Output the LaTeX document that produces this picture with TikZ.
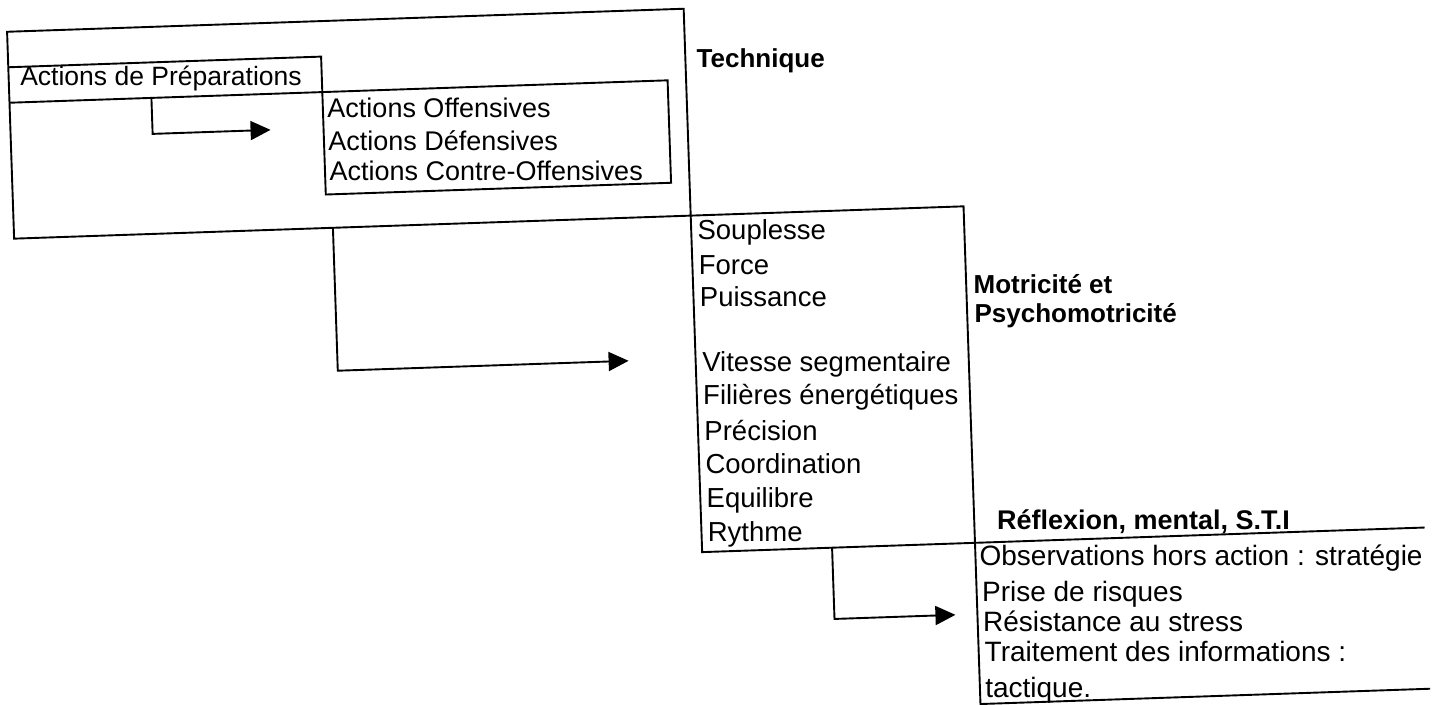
\documentclass[tikz,border=0pt]{standalone}
\usepackage{fontspec}
\setmainfont{Liberation Sans}
\usetikzlibrary{arrows.meta}
\begin{document}
\begin{tikzpicture}[x=1pt,y=-1pt,
  boxline/.style={line width=1.9pt, line join=miter},
  conn/.style={line width=1.9pt, -{Triangle[length=20pt,width=19pt]}},
  txt/.style={anchor=base, inner sep=0pt, outer sep=0pt},
  fprep/.style={txt, font=\fontsize{26.5}{31}\selectfont},
  foff/.style={txt, font=\fontsize{27}{32}\selectfont},
  fmot/.style={txt, font=\fontsize{27.5}{33}\selectfont},
  fref/.style={txt, font=\fontsize{28}{33}\selectfont},
  ftitle/.style={txt, font=\bfseries\fontsize{26}{30}\selectfont}]
\fill[white] (0,0) rectangle (1437,704);
\useasboundingbox (0,0) rectangle (1437,704);
\begin{scope}[rotate=1.95]
  % corners
  \coordinate (T1) at (6,32);     \coordinate (T2) at (683,32);
  \coordinate (T3) at (683,239);  \coordinate (T4) at (6,239);
  \coordinate (P1) at (6,67.5);   \coordinate (P2) at (319,67.5);
  \coordinate (P3) at (319,103);  \coordinate (P4) at (6,103);
  \coordinate (O2) at (664.5,103); \coordinate (O3) at (664.5,205.5);
  \coordinate (O4) at (319,205.5);
  \coordinate (M2) at (956,239);  \coordinate (M3) at (956,575.7);
  \coordinate (M4) at (683,575.7);
  \coordinate (R2) at (1406,575.7); \coordinate (R3) at (1406,737);
  \coordinate (R4) at (956,737);
  % boxes
  \draw[boxline] (T1) -- (T2) -- (T3) -- (T4) -- cycle;
  \draw[boxline] (P1) -- (P2) -- (P3);
  \draw[boxline] (P4) -- (O2) -- (O3) -- (O4) -- (P3);
  \draw[boxline] (T3) -- (M2) -- (M3);
  \draw[boxline] (T3) -- (M4) -- (R2);
  \draw[boxline] (M3) -- (R4) -- (R3);
  % connectors
  \coordinate (a1s) at (148,103); \coordinate (a1c) at (148,139); \coordinate (a1e) at (266,139);
  \coordinate (a2s) at (325,239); \coordinate (a2c) at (325,382); \coordinate (a2e) at (616,382);
  \coordinate (a3s) at (813,575.7); \coordinate (a3c) at (813,647); \coordinate (a3e) at (934,647);
  \draw[conn] (a1s) -- (a1c) -- (a1e);
  \draw[conn] (a2s) -- (a2c) -- (a2e);
  \draw[conn] (a3s) -- (a3c) -- (a3e);
  % texts (anchored at the centre of their baselines)
  \node[fprep] (prep) at (158,91) {Actions de Préparations};
  \node[foff] (off0) at (434.8,132) {Actions Offensives};
  \node[foff] (off1) at (437.8,165.5) {Actions Défensives};
  \node[foff] (off2) at (479.8,196.5) {Actions Contre-Offensives};
  \node[ftitle] (tech) at (758,93.6) {Technique};
  \foreach \t/\i/\cx in {Souplesse/0/753.2, Force/1/724.2, Puissance/2/752.5,
      Vitesse segmentaire/4/813.6, Filières énergétiques/5/816.6, Précision/6/745.6,
      Coordination/7/767, Equilibre/8/742.5, Rythme/9/736.4}
    \node[fmot] (mot\i) at (\cx,265.7+33.45*\i) {\t};
  \node[ftitle] (motA) at (1032.4,329) {Motricité et};
  \node[ftitle] (motB) at (1064.1,359) {Psychomotricité};
  \node[ftitle, font=\bfseries\fontsize{27}{30}\selectfont] (refl) at (1124.8,568) {Réflexion, mental, S.T.I};
  \foreach \t/\i/\cx in {Observations hors action : stratégie/0/1181.2, Prise de risques/1/1061.4,
      Résistance au stress/2/1091, Traitement des informations :/3/1142.3, tactique./4/1013.9}
    \node[fref] (ref\i) at (\cx,606+31.5*\i) {\t};
\end{scope}
\end{tikzpicture}
\end{document}
